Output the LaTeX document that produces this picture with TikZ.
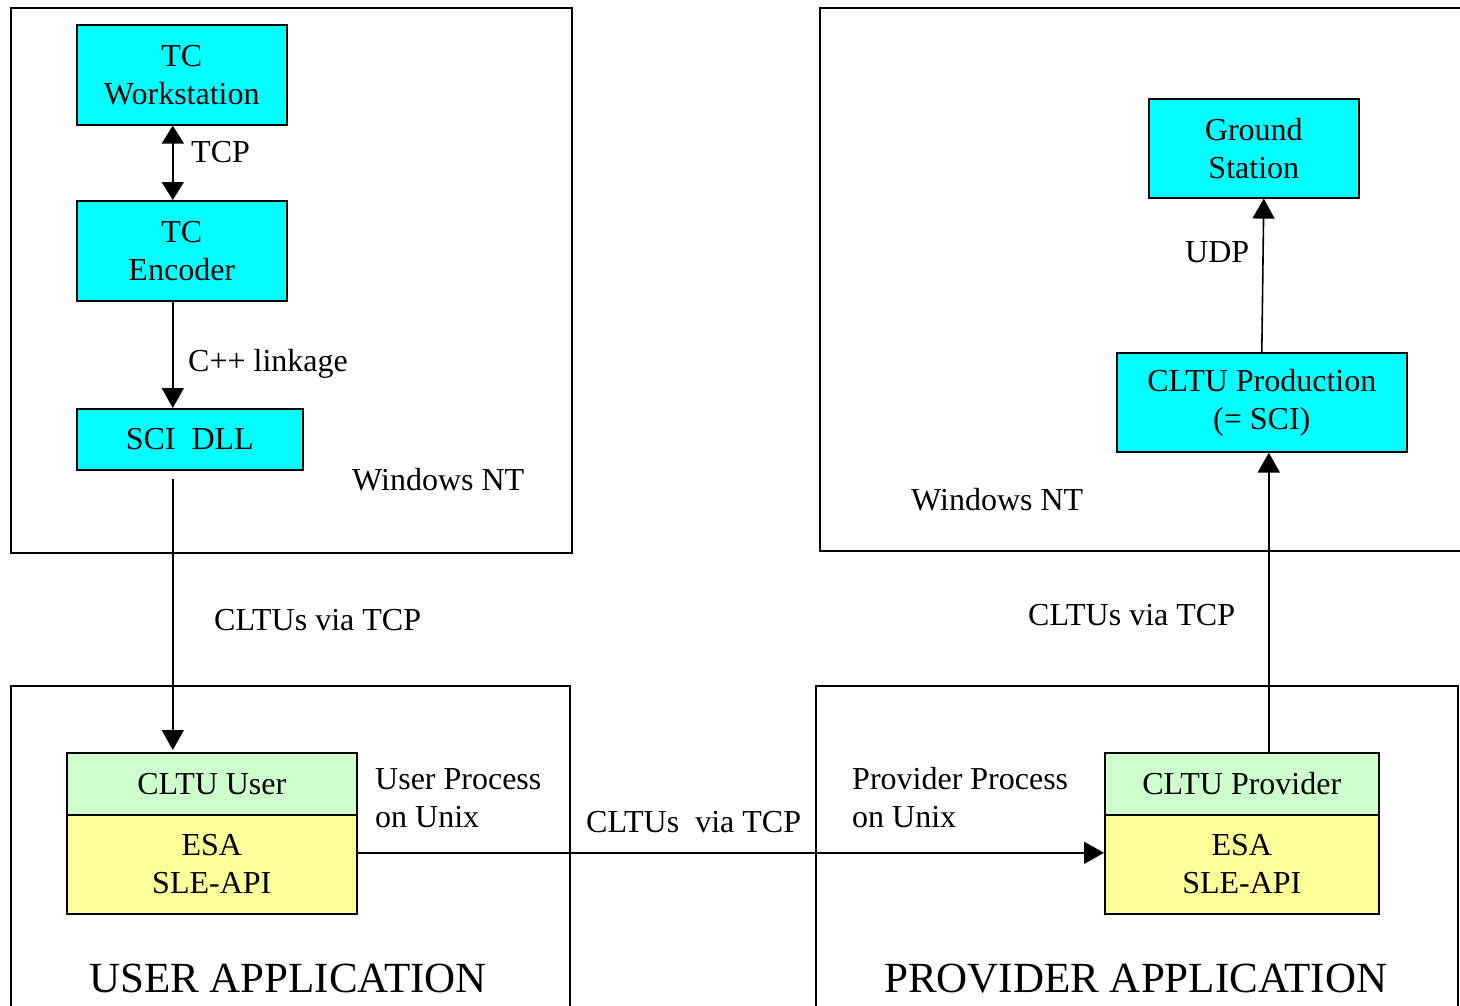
\documentclass[tikz,border=0pt]{standalone}
\usepackage{fontspec}
\setmainfont{Liberation Serif}
\usetikzlibrary{arrows.meta,calc}
\definecolor{boxcyan}{HTML}{00FFFF}
\definecolor{apigreen}{HTML}{CCFFCC}
\definecolor{apiyellow}{HTML}{FFFF99}
\begin{document}
\begin{tikzpicture}[x=1pt,y=-1pt,
  every node/.style={font=\fontsize{32}{38}\selectfont, inner sep=0pt},
  frame/.style={draw, line width=1.6pt},
  comp/.style={draw, line width=1.6pt, fill=boxcyan, align=center, anchor=north west},
  apitop/.style={comp, fill=apigreen},
  apibot/.style={comp, fill=apiyellow},
  lbl/.style={anchor=base west},
  biglbl/.style={anchor=base west, font=\fontsize{43}{50}\selectfont},
  conn/.style={line width=1.6pt, -{Triangle[length=20pt,width=22pt]}},
  biconn/.style={line width=1.6pt, {Triangle[length=18pt,width=22pt]}-{Triangle[length=18pt,width=22pt]}}
]
\useasboundingbox (0,0) rectangle (1460,1005);
\clip (0,0) rectangle (1460,1005);

% host frames
\draw[frame] (11,8) rectangle (572,553);
\draw[frame] (820,8) rectangle (1475,551);
\draw[frame] (11,686) rectangle (570,1020);
\draw[frame] (816,686) rectangle (1458,1020);

% components on the Windows NT hosts
\node[comp, minimum width=210, minimum height=100] (ws) at (76,24) {TC\\Workstation};
\node[comp, minimum width=210, minimum height=100] (enc) at (76,200) {TC\\Encoder};
\node[comp, minimum width=226, minimum height=61] (sci) at (76,408) {SCI\ \ DLL};
\node[comp, minimum width=210, minimum height=99] (gs) at (1148,98) {Ground\\Station};
\node[comp, minimum width=290, minimum height=99] (prod) at (1116,352) {CLTU Production\\(= SCI)};

% SLE-API stacks
\node[apitop, minimum width=290, minimum height=62] (usr) at (66,752) {CLTU User};
\node[apibot, minimum width=290, minimum height=99] (uapi) at (66,814) {ESA\\SLE-API};
\node[apitop, minimum width=274, minimum height=62] (prv) at (1104,752) {CLTU Provider};
\node[apibot, minimum width=274, minimum height=99] (papi) at (1104,814) {ESA\\SLE-API};

% connectors
\draw[biconn] ($(ws.south)+(-9,0)$) -- ($(enc.north)+(-9,0)$);
\draw[conn] ($(enc.south)+(-9,0)$) -- ($(sci.north)+(-17,0)$);
\draw[conn] ($(sci.south)+(-17,8)$) -- ($(usr.north)+(-39,-2)$);
\draw[conn] ($(uapi.east)+(0,-11.5)$) -- ($(papi.west)+(0,-11.5)$);
\draw[conn] ($(prv.north)+(27,0)$) -- ($(prod.south)+(7,0)$);
\draw[conn] (prod.north) -- ($(gs.south)+(10,0)$);

% labels
\node[lbl] (tcp) at (191,162) {TCP};
\node[lbl] (cpp) at (188,371) {C++ linkage};
\node[lbl] (ntl) at (352,490) {Windows NT};
\node[lbl] (udp) at (1185,262) {UDP};
\node[lbl] (ntr) at (911,510) {Windows NT};
\node[lbl] (viaL) at (214,630) {CLTUs via TCP};
\node[lbl] (viaR) at (1028,625) {CLTUs via TCP};
\node[lbl] (viaM) at (586,832) {CLTUs\ \ via TCP};
\node[anchor=west, align=left] (uproc) at (375,798) {User Process\\on Unix};
\node[anchor=west, align=left] (pproc) at (852,798) {Provider Process\\on Unix};
\node[biglbl] (uapp) at (89,992) {USER APPLICATION};
\node[biglbl] (papp) at (884,992) {PROVIDER APPLICATION};
\end{tikzpicture}
\end{document}
